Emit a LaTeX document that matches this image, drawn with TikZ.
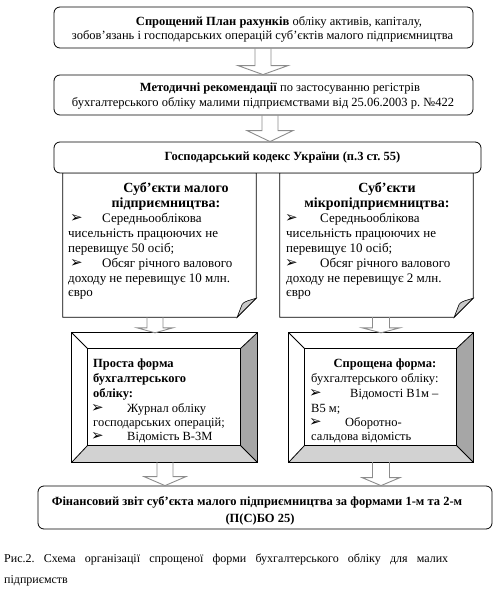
\documentclass[tikz,border=0pt]{standalone}
\usepackage{fontspec}
\setmainfont{Liberation Serif}
\newfontfamily\djv{DejaVu Sans}
\usetikzlibrary{calc}
\definecolor{arrgray}{HTML}{8C8C8C}
\definecolor{facedark}{HTML}{A6A6A6}
\definecolor{facelight}{HTML}{D2D2D2}
\definecolor{foldgray}{HTML}{C8C8C8}
\frenchspacing
\newcommand\ftop{\fontsize{12.5}{14}\selectfont}
\newcommand\fdoc{\fontsize{13}{15}\selectfont}
\newcommand\fdoch{\fontsize{14}{15}\selectfont\bfseries}
\newcommand\fbev{\fontsize{12.5}{14}\selectfont}
\newcommand\fbul{\djv\bfseries\fontsize{15}{15}\selectfont}
\newcommand\fcap{\fontsize{12}{14}\selectfont}
\newcommand\docshape[1]{%
  \draw[line width=0.8pt, fill=white] (#1.north west) -- (#1.north east)
    -- ($(#1.south east)+(0,-19)$) .. controls ($(#1.south east)+(-10,-10)$) .. ($(#1.south east)+(-19,0)$)
    -- (#1.south west) -- cycle;
  \draw[line width=0.6pt, fill=foldgray] ($(#1.south east)+(-19,0)$)
    .. controls ($(#1.south east)+(-16,-8)$) .. ($(#1.south east)+(-14,-13)$)
    .. controls ($(#1.south east)+(-12,-16)$) and ($(#1.south east)+(-6,-17)$) .. ($(#1.south east)+(0,-19)$)
    .. controls ($(#1.south east)+(-10,-10)$) .. ($(#1.south east)+(-19,0)$) -- cycle;}
\newcommand\bevelbox[1]{%
  \coordinate (#1a) at ($(#1.north west)+(16,16)$);
  \coordinate (#1b) at ($(#1.north east)+(-17,16)$);
  \coordinate (#1c) at ($(#1.south east)+(-17,-17)$);
  \coordinate (#1d) at ($(#1.south west)+(16,-17)$);
  \fill[facedark] (#1.north east) -- (#1.south east) -- (#1c) -- (#1b) -- cycle;
  \fill[facelight] (#1.south west) -- (#1.south east) -- (#1c) -- (#1d) -- cycle;
  \draw[line width=0.8pt] (#1.north west) rectangle (#1.south east);
  \draw[line width=0.8pt] (#1a) rectangle (#1c);
  \draw[line width=0.8pt] (#1.north west) -- (#1a) (#1.north east) -- (#1b)
    (#1.south east) -- (#1c) (#1.south west) -- (#1d);}
\newcommand\barrow[6]{%
  \draw[barr] ($(#1,0 |- #2.south)+(-#4,0)$) -- ($(#1,0 |- #3.north)+(-#4,-#6)$)
    -- ($(#1,0 |- #3.north)+(-#5,-#6)$) -- (#1,0 |- #3.north)
    -- ($(#1,0 |- #3.north)+(#5,-#6)$) -- ($(#1,0 |- #3.north)+(#4,-#6)$)
    -- ($(#1,0 |- #2.south)+(#4,0)$);}
\begin{document}
\begin{tikzpicture}[x=1pt,y=-1pt,
  rbox/.style={draw, line width=0.8pt, rounded corners=6pt, inner sep=0pt},
  frame/.style={inner sep=0pt},
  tl/.style={anchor=base west, inner sep=0pt},
  tc/.style={anchor=base, inner sep=0pt},
  te/.style={anchor=base east, inner sep=0pt},
  bul/.style={anchor=base west, inner sep=0pt, font=\fbul, yshift=-0.5pt},
  barr/.style={draw=arrgray, line width=0.9pt, line join=miter}]
\useasboundingbox (0,0) rectangle (497,593);
% frames
\node[rbox, minimum width=419pt, minimum height=41pt] (b1) at (263.5,27.5) {};
\node[rbox, minimum width=419pt, minimum height=40pt] (b2) at (263.5,95) {};
\node[frame, minimum width=193pt, minimum height=144pt] (dl) at (159.5,245) {};
\node[frame, minimum width=193pt, minimum height=144pt] (dr) at (376.5,245) {};
\docshape{dl}
\docshape{dr}
\node[rbox, fill=white, minimum width=427pt, minimum height=31pt] (b3) at (267.5,157.5) {};
\node[frame, minimum width=185pt, minimum height=129pt] (vl) at (164.5,397.5) {};
\node[frame, minimum width=184pt, minimum height=129pt] (vr) at (381,397.5) {};
\bevelbox{vl}
\bevelbox{vr}
\node[rbox, minimum width=454pt, minimum height=43pt] (fin) at (265,507.5) {};
% arrows
\barrow{263}{b1}{b2}{8}{25}{9}
\barrow{270}{b2}{b3}{8}{23}{11}
\barrow{155}{dl}{vl}{8}{18}{5}
\barrow{381}{dr}{vr}{8.5}{19}{5}
\barrow{165}{vl}{fin}{8}{21}{9}
\barrow{381}{vr}{fin}{8.5}{19}{8}
% top texts
\node[tc, font=\ftop] (t1a) at (279,26) {\textbf{Спрощений План рахунків} обліку активів, капіталу,};
\node[tc, font=\ftop] (t1b) at (262.5,40) {зобов’язань і господарських операцій суб’єктів малого підприємництва};
\node[tc, font=\ftop] (t2a) at (280,92) {\textbf{Методичні рекомендації} по застосуванню регістрів};
\node[tc, font=\ftop] (t2b) at (263,107) {бухгалтерського обліку малими підприємствами від 25.06.2003 р. №422};
\node[tc, font=\ftop\bfseries] (t3) at (282.5,161) {Господарський кодекс України (п.3 ст. 55)};
% left document
\node[tc, font=\fdoch] (dla) at (176,193) {Суб’єкти малого};
\node[tc, font=\fdoch] (dlb) at (166,208) {підприємництва:};
\node[bul] (dlc) at (70,222.5) {➢};
\node[tl, font=\fdoc] (dld) at (102,222.5) {Середньооблікова};
\node[tl, font=\fdoc] (dle) at (68,237.3) {чисельність працюючих не};
\node[tl, font=\fdoc] (dlf) at (68,252) {перевищує 50 осіб;};
\node[bul] (dlg) at (70,267) {➢};
\node[tl, font=\fdoc] (dlh) at (102,267) {Обсяг річного валового};
\node[tl, font=\fdoc] (dli) at (68,282) {доходу не перевищує 10 млн.};
\node[tl, font=\fdoc] (dlj) at (68,296.5) {євро};
% right document
\node[tc, font=\fdoch] (dra) at (387,193) {Суб’єкти};
\node[tc, font=\fdoch] (drb) at (377,208) {мікропідприємництва:};
\node[bul] (drc) at (285,222.5) {➢};
\node[tl, font=\fdoc] (drd) at (320,222.5) {Середньооблікова};
\node[tl, font=\fdoc] (dre) at (286,237.3) {чисельність працюючих не};
\node[tl, font=\fdoc] (drf) at (286,252) {перевищує 10 осіб;};
\node[bul] (drg) at (285,267) {➢};
\node[tl, font=\fdoc] (drh) at (320,267) {Обсяг річного валового};
\node[tl, font=\fdoc] (dri) at (286,282) {доходу не перевищує 2 млн.};
\node[tl, font=\fdoc] (drj) at (286,296.5) {євро};
% left bevel
\node[tl, font=\fbev\bfseries] (vla) at (93,367) {Проста форма};
\node[tl, font=\fbev\bfseries] (vlb) at (93,382) {бухгалтерського};
\node[tl, font=\fbev\bfseries] (vlc) at (93,397) {обліку:};
\node[bul] (vld) at (91,412) {➢};
\node[tl, font=\fbev] (vle) at (127,412) {Журнал обліку};
\node[tl, font=\fbev] (vlf) at (93,426) {господарських операцій;};
\node[bul] (vlg) at (91,440) {➢};
\node[tl, font=\fbev] (vlh) at (127,440) {Відомість В-3М};
% right bevel
\node[tc, font=\fbev\bfseries] (vra) at (385,367) {Спрощена форма:};
\node[tl, font=\fbev] (vrb) at (311,382) {бухгалтерського обліку:};
\node[bul] (vrc) at (309,397) {➢};
\node[tl, font=\fbev] (vrd) at (350,397) {Відомості В1м –};
\node[tl, font=\fbev] (vre) at (311,412) {В5 м;};
\node[bul] (vrf) at (309,426) {➢};
\node[tl, font=\fbev] (vrg) at (345,426) {Оборотно-};
\node[tl, font=\fbev] (vrh) at (311,440) {сальдова відомість};
% final box
\node[tc, font=\ftop\bfseries] (fa) at (257,505) {Фінансовий звіт суб’єкта малого підприємництва за формами 1-м та 2-м};
\node[tc, font=\ftop\bfseries] (fb) at (260,522) {(П(С)БО 25)};
% caption
\node[tl, font=\fcap] (ca) at (4,562) {\makebox[444pt][s]{Рис.2. Схема організації спрощеної форми бухгалтерського обліку для малих}};
\node[tl, font=\fcap] (cb) at (4,583) {підприємств};
\end{tikzpicture}
\end{document}
